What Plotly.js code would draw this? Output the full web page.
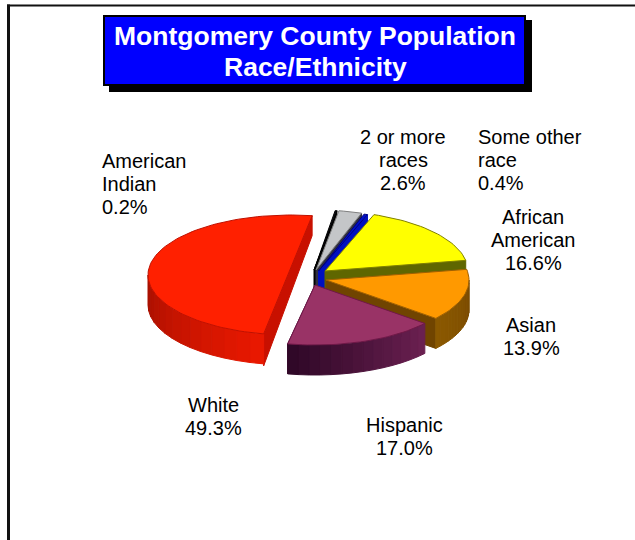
<!DOCTYPE html>
<html><head><meta charset="utf-8">
<script src="https://cdn.plot.ly/plotly-3.0.1.min.js"></script>
<style>html,body{margin:0;padding:0;background:#fff}#c{width:635px;height:540px}</style>
</head><body><div id="c"></div>
<script>
// Data, clockwise from the top of the pie
const categories = ["American Indian","2 or more races","Some other race","African American","Asian","Hispanic","White"];
const shares = [0.2,2.6,0.4,16.6,13.9,17.0,49.3];
const labelLines = [["American","Indian","0.2%"],["2 or more","races","2.6%"],["Some other","race","0.4%"],["African","American","16.6%"],["Asian","13.9%"],["Hispanic","17.0%"],["White","49.3%"]];
const titleLines = ["Montgomery County Population","Race/Ethnicity"];

// Style
const topColors = ["#101018","#c4c6c8","#0010c8","#ffff00","#ff9900","#993366","#ff2000"];
const edgeColors = ["#000000","#808080","#000080","#808000","#a06000","#701848","#c01000"];
const wallStart = ["#000000","#707070","#000080","#5f6600","#7a4a00","#6a2050","#e81800"];
const wallEnd   = ["#000000","#707070","#000080","#5f6600","#8a5800","#300828","#a81000"];
const cutColors = ["#000000","#303040","#0010c0","#5f6600","#704400","#500f38","#c81000"];
const centerX = [314,316,318.5,325,326,315,291];
const centerY = [270,270,271,271,280,285,275];
const labelX = [100,403,476,533,531,404,213];
const labelY = [161,137,137,217,325,425,405];
const labelAnchor = ["left","center","left","center","center","center","center"];
const radiusX = 143, radiusY = 60, depth = 30, startAngle = 8.5;

const hex = c => [1,3,5].map(i => parseInt(c.substr(i,2),16));
const mix = (a,b,t) => { const A=hex(a),B=hex(b); return "rgb("+A.map((v,i)=>Math.round(v+(B[i]-v)*t)).join(",")+")"; };
const traces = [];
function poly(xs,ys,fill,line,w){
  traces.push({type:"scatter",mode:"lines",x:xs.concat(xs[0]),y:ys.concat(ys[0]),fill:"toself",
    fillcolor:fill,line:{color:line||fill,width:w===undefined?1:w},hoverinfo:"skip",showlegend:false});
}
const rim = (i,deg) => { const r=deg*Math.PI/180; return [centerX[i]+radiusX*Math.sin(r), centerY[i]-radiusY*Math.cos(r)]; };

// angular extent of every slice from the shares
let acc = startAngle; const from = [], to = [];
shares.forEach(v => { from.push(acc); acc += v*3.6; to.push(acc); });

// paint from back to front
[0,1,2,3,4,5,6].forEach(i => {
  const a0=from[i], a1=to[i];
  const cx=centerX[i], cy=centerY[i];
  const pStart=rim(i,a0), pEnd=rim(i,a1);
  if(i===6){ // White: cut face along its straight edge
    poly([pEnd[0],pStart[0],pStart[0],pEnd[0]],[pEnd[1],pStart[1],pStart[1]+depth+2,pEnd[1]+depth-10],cutColors[i]);
  } else {
    poly([cx,pEnd[0],pEnd[0],cx],[cy,pEnd[1],pEnd[1]+depth,cy+depth],cutColors[i]);
  }
  // outer wall where the rim faces the viewer, in shaded strips
  const w0=Math.max(a0,90), w1=Math.min(a1,270), n=14;
  if(w1>w0) for(let k=0;k<n;k++){
    const s=w0+(w1-w0)*k/n, e=w0+(w1-w0)*(k+1)/n, m=(s+e)/2;
    const xs=[],ys=[];
    [s,m,e].forEach(d=>{const p=rim(i,d);xs.push(p[0]);ys.push(p[1]);});
    [e,m,s].forEach(d=>{const p=rim(i,d);xs.push(p[0]);ys.push(p[1]+depth);});
    poly(xs,ys,mix(wallStart[i],wallEnd[i],k/(n-1)));
  }
  // top face
  const xs=[cx],ys=[cy];
  const steps=Math.max(2,Math.ceil((a1-a0)/2));
  for(let k=0;k<=steps;k++){const p=rim(i,a0+(a1-a0)*k/steps);xs.push(p[0]);ys.push(p[1]);}
  if(i===6){xs.shift();ys.shift();}
  poly(xs,ys,topColors[i],edgeColors[i],1);
});

const annotations = [];
const labelFont = {family:"Liberation Sans, Arial, sans-serif",size:20,color:"#000"};
categories.forEach((c,i)=>labelLines[i].forEach((t,k)=>annotations.push({
  x:labelX[i],y:labelY[i]+k*23,xref:"x",yref:"y",text:t,showarrow:false,
  xanchor:labelAnchor[i],yanchor:"middle",font:labelFont})));
titleLines.forEach((t,k)=>annotations.push({x:315,y:36+k*31,xref:"x",yref:"y",text:t,showarrow:false,
  xanchor:"center",yanchor:"middle",
  font:{family:"Liberation Sans, Arial, sans-serif",size:26.5,color:"#fff",weight:700}}));

const shapes = [
  {type:"line",x0:7,x1:635,y0:5.5,y1:5.5,line:{color:"#111",width:2},layer:"below"},
  {type:"line",x0:8.5,x1:8.5,y0:4.5,y1:540,line:{color:"#111",width:3},layer:"below"},
  {type:"rect",x0:109,x1:532,y0:20,y1:92,fillcolor:"#000",line:{width:0},layer:"below"},
  {type:"rect",x0:104,x1:525,y0:16,y1:85,fillcolor:"#0000ff",line:{color:"#000",width:2},layer:"below"}
];

Plotly.newPlot("c",traces,{
  width:635,height:540,margin:{l:0,r:0,t:0,b:0},showlegend:false,
  paper_bgcolor:"#fff",plot_bgcolor:"#fff",hovermode:false,
  xaxis:{range:[0,635],visible:false,fixedrange:true},
  yaxis:{range:[540,0],visible:false,fixedrange:true},
  annotations,shapes
},{displayModeBar:false,staticPlot:true});
</script></body></html>
